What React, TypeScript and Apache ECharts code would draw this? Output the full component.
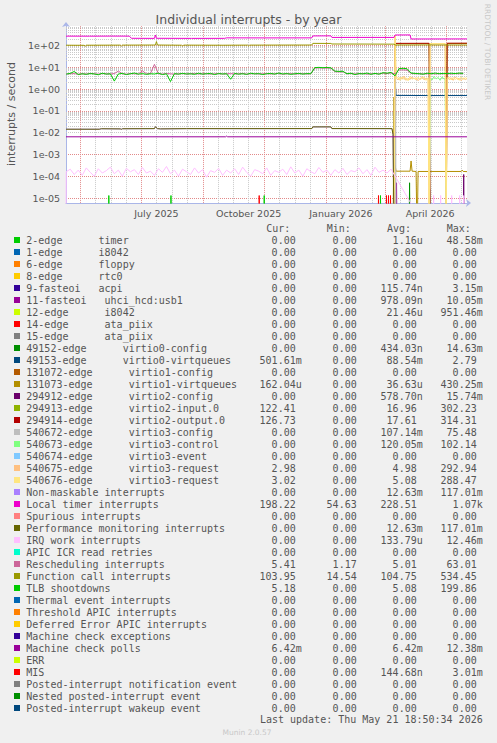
import React, { useEffect, useRef } from "react";
import * as echarts from "echarts";

const DAY = 86400000;
function t(s: string): number {
  const [d, hm = "00:00"] = s.split(" ");
  const [Y, M, D] = d.split("-").map(Number);
  const [h, m] = hm.split(":").map(Number);
  return Date.UTC(Y, M - 1, D, h, m);
}

// ---------- axis ranges / ticks ----------
const START = "2025-04-16 18:50";
const END = "2026-05-21 18:50";
const Y_MIN = 5.9e-6;
const Y_MAX = 776;
const FLOOR = 1e-7; // zero values are drawn below the visible floor (log scale)
const Y_TICK_EXPONENTS = [-5, -4, -3, -2, -1, 0, 1, 2];
const Y_TICK_LABELS = ["1e-05", "1e-04", "1e-03", "1e-02", "1e-01", "1e+00", "1e+01", "1e+02"];
const X_LABEL_DATES = ["2025-07-16", "2025-10-16", "2026-01-16", "2026-04-15"];
const X_LABELS = ["July 2025", "October 2025", "January 2026", "April 2026"];
const X_MAJOR_GRID = ["2025-05-01", "2025-07-01", "2025-09-01", "2025-11-01", "2026-01-01", "2026-03-01", "2026-05-01"];

// ---------- legend ----------
const LEGEND_LABELS = [
  "2-edge      timer",
  "1-edge      i8042",
  "6-edge      floppy",
  "8-edge      rtc0",
  "9-fasteoi   acpi",
  "11-fasteoi   uhci_hcd:usb1",
  "12-edge      i8042",
  "14-edge      ata_piix",
  "15-edge      ata_piix",
  "49152-edge      virtio0-config",
  "49153-edge      virtio0-virtqueues",
  "131072-edge      virtio1-config",
  "131073-edge      virtio1-virtqueues",
  "294912-edge      virtio2-config",
  "294913-edge      virtio2-input.0",
  "294914-edge      virtio2-output.0",
  "540672-edge      virtio3-config",
  "540673-edge      virtio3-control",
  "540674-edge      virtio3-event",
  "540675-edge      virtio3-request",
  "540676-edge      virtio3-request",
  "Non-maskable interrupts",
  "Local timer interrupts",
  "Spurious interrupts",
  "Performance monitoring interrupts",
  "IRQ work interrupts",
  "APIC ICR read retries",
  "Rescheduling interrupts",
  "Function call interrupts",
  "TLB shootdowns",
  "Thermal event interrupts",
  "Threshold APIC interrupts",
  "Deferred Error APIC interrupts",
  "Machine check exceptions",
  "Machine check polls",
  "ERR",
  "MIS",
  "Posted-interrupt notification event",
  "Nested posted-interrupt event",
  "Posted-interrupt wakeup event",
];
const LEGEND_COLORS = [
  "#00CC00", "#0066B3", "#FF8000", "#FFCC00", "#330099", "#990099", "#CCFF00", "#FF0000", "#808080", "#008F00",
  "#00487D", "#B35A00", "#B38F00", "#6B006B", "#8FB300", "#B30000", "#BEBEBE", "#80FF80", "#80C9FF", "#FFC080",
  "#FFE680", "#AA80FF", "#EE00CC", "#FF8080", "#666600", "#FFBFFF", "#00FFCC", "#CC6699", "#999900", "#00CC00",
  "#0066B3", "#FF8000", "#FFCC00", "#330099", "#990099", "#CCFF00", "#FF0000", "#808080", "#008F00", "#00487D",
];
const CUR = ["0.00", "0.00", "0.00", "0.00", "0.00", "0.00", "0.00", "0.00", "0.00", "0.00", "501.61m", "0.00", "162.04u", "0.00", "122.41", "126.73", "0.00", "0.00", "0.00", "2.98", "3.02", "0.00", "198.22", "0.00", "0.00", "0.00", "0.00", "5.41", "103.95", "5.18", "0.00", "0.00", "0.00", "0.00", "6.42m", "0.00", "0.00", "0.00", "0.00", "0.00"];
const MIN = ["0.00", "0.00", "0.00", "0.00", "0.00", "0.00", "0.00", "0.00", "0.00", "0.00", "0.00", "0.00", "0.00", "0.00", "0.00", "0.00", "0.00", "0.00", "0.00", "0.00", "0.00", "0.00", "54.63", "0.00", "0.00", "0.00", "0.00", "1.17", "14.54", "0.00", "0.00", "0.00", "0.00", "0.00", "0.00", "0.00", "0.00", "0.00", "0.00", "0.00"];
const AVG = ["1.16u", "0.00", "0.00", "0.00", "115.74n", "978.09n", "21.46u", "0.00", "0.00", "434.03n", "88.54m", "0.00", "36.63u", "578.70n", "16.96", "17.61", "107.14m", "120.05m", "0.00", "4.98", "5.08", "12.63m", "228.51", "0.00", "12.63m", "133.79u", "0.00", "5.01", "104.75", "5.08", "0.00", "0.00", "0.00", "0.00", "6.42m", "0.00", "144.68n", "0.00", "0.00", "0.00"];
const MAX = ["48.58m", "0.00", "0.00", "0.00", "3.15m", "10.05m", "951.46m", "0.00", "0.00", "14.63m", "2.79", "0.00", "430.25m", "15.74m", "302.23", "314.31", "75.48", "102.14", "0.00", "292.94", "288.47", "117.01m", "1.07k", "0.00", "117.01m", "12.46m", "0.00", "63.01", "534.45", "199.86", "0.00", "0.00", "0.00", "0.00", "12.38m", "0.00", "3.01m", "0.00", "0.00", "0.00"];

// ---------- series values ----------
// sampled every 4 days from D4_START
const D4_START = "2025-04-17";
const TLB = [
  4.8, 5.2, 6.4, 4.6, 5.0, 4.7, 5.1, 4.9, 4.5, 5.3,
  4.8, 5.0, 2.3, 4.9, 5.2, 4.6, 5.0, 5.4, 4.8, 5.1,
  4.7, 5.0, 4.9, 5.3, 4.6, 5.0, 2.2, 5.1, 4.8, 5.2,
  4.9, 5.0, 4.7, 5.3, 4.8, 5.0, 5.2, 4.6, 5.1, 4.9,
  5.0, 2.8, 5.2, 4.8, 5.0, 4.7, 5.3, 4.9, 5.1, 4.6,
  5.0, 5.2, 4.8, 5.4, 4.9, 5.1, 4.7, 5.0, 5.2, 4.8,
  5.1, 5.0, 9.6, 9.8, 9.5, 9.7, 9.4, 6.6, 6.4, 6.5,
  5.0, 5.3, 4.6, 5.1, 4.9, 5.4, 4.7, 5.2, 4.8, 5.6,
  5.3, 5.8, 4.0, 8.6, 8.9, 8.5, 5.4, 5.2, 5.0, 4.8,
  5.3, 5.0, 5.4, 5.0, 5.2, 5.1, 5.3, 5.1, 5.4, 5.2,
];
const RESCHED = [
  4.9, 5.0, 5.1, 4.8, 5.0, 4.9, 5.2, 5.0, 4.8, 5.1,
  5.0, 4.9, 5.1, 6.6, 5.0, 4.8, 5.1, 5.0, 4.9, 6.8,
  5.0, 5.1, 13.5, 5.0, 4.9, 5.1, 5.0, 4.8, 5.0, 5.1,
  4.9, 5.0, 5.2, 4.9, 5.0, 5.1, 4.8, 5.0, 5.1, 4.9,
  5.0, 5.1, 4.9, 5.0, 5.2, 4.8, 5.0, 5.1, 4.9, 5.0,
  5.1, 4.9, 5.0, 5.2, 4.8, 5.0, 5.1, 4.9, 5.0, 5.1,
  4.9, 5.0, 9.2, 9.3, 9.1, 9.2, 9.0, 6.2, 6.1, 6.2,
  5.0, 5.1, 4.9, 5.0, 5.2, 4.8, 5.0, 5.1, 4.9, 5.3,
  5.1, 5.4, 5.0, 7.4, 7.5, 7.3, 5.2, 5.0, 5.1, 4.9,
  5.0, 5.2, 4.9, 5.1, 5.0, 5.2, 4.9, 5.1, 5.0, 5.4,
];
const IRQ_WORK = [
  1.6e-4, 2.1e-4, 1.2e-4, 1.9e-4, 1.1e-4, 2.4e-4, 1.5e-4, 1.0e-4, 2.2e-4, 1.4e-4,
  1.8e-4, 2.6e-4, 1.3e-4, 1.9e-4, 1.0e-4, 2.3e-4, 1.6e-4, 2.0e-4, 1.2e-4, 2.5e-4,
  1.4e-4, 1.7e-4, 1.1e-4, 2.2e-4, 1.5e-4, 2.8e-4, 1.3e-4, 1.9e-4, 1.0e-4, 2.1e-4,
  1.6e-4, 1.2e-4, 2.4e-4, 1.4e-4, 2.0e-4, 0.9e-4, 1.8e-4, 1.5e-4, 2.3e-4, 1.1e-4,
  1.9e-4, 1.4e-4, 2.2e-4, 1.2e-4, 2.6e-4, 1.5e-4, 1.0e-4, 2.0e-4, 1.7e-4, 1.3e-4,
  2.4e-4, 1.1e-4, 1.8e-4, 1.5e-4, 2.1e-4, 1.2e-4, 2.7e-4, 1.4e-4, 1.9e-4, 1.0e-4,
  2.2e-4, 1.6e-4, 1.3e-4, 2.5e-4, 1.5e-4, 1.9e-4, 1.1e-4, 2.0e-4, 1.4e-4, 2.3e-4,
  1.2e-4, 1.8e-4, 1.6e-4, 2.4e-4, 1.3e-4, 2.0e-4, 1.1e-4, 2.6e-4, 1.5e-4, 1.9e-4,
  1.4e-4, 2.1e-4, 0, 0, 0, 0, 0, 0, 0, 0,
  0, 0, 0, 0, 0, 0, 0, 0, 0, 0,
];
const IRQ_WORK_SPIKES: [string, number][] = [["2026-04-18", 1.3e-5], ["2026-04-25", 1.3e-5], ["2026-05-06", 1.3e-5], ["2026-05-14", 1.3e-5], ["2026-05-18", 1.3e-5]];

const LOCAL_TIMER: [string, number][] = [
  [START, 266], ["2025-05-10", 265], ["2025-06-01", 267], ["2025-06-19", 266], ["2025-06-21", 212],
  ["2025-07-14", 210], ["2025-07-15", 300], ["2025-07-16", 212], ["2025-08-20", 210], ["2025-09-22", 211],
  ["2025-09-24", 222], ["2025-11-01", 221], ["2025-12-18", 222], ["2025-12-19", 272], ["2026-01-06", 274],
  ["2026-01-07", 232], ["2026-02-15", 233], ["2026-03-10", 232], ["2026-03-11", 300], ["2026-03-26", 302],
  ["2026-03-27", 197], [END, 198.22],
];
const FUNCTION_CALL: [string, number][] = [
  [START, 102], ["2025-05-05", 101], ["2025-05-06", 92], ["2025-05-07", 102], ["2025-06-10", 103],
  ["2025-06-11", 93], ["2025-06-12", 103], ["2025-07-15", 104], ["2025-07-16", 150], ["2025-07-17", 104],
  ["2025-08-10", 102], ["2025-08-11", 92], ["2025-08-12", 103], ["2025-09-20", 102], ["2025-10-15", 103],
  ["2025-10-16", 93], ["2025-10-17", 103], ["2025-12-18", 104], ["2025-12-19", 124], ["2026-01-06", 123],
  ["2026-01-07", 116], ["2026-02-10", 115], ["2026-03-10", 114], ["2026-03-11", 104], ["2026-04-10", 105],
  [END, 103.95],
];
const PERF_MON: [string, number][] = [
  [START, 0.0143], ["2025-05-20", 0.0143], ["2025-05-22", 0.015], ["2025-06-10", 0.0148], ["2025-06-11", 0.0142],
  ["2025-06-12", 0.015], ["2025-07-14", 0.0152], ["2025-07-15", 0.0185], ["2025-07-17", 0.0152], ["2025-07-20", 0.0148],
  ["2025-08-15", 0.0152], ["2025-10-10", 0.0152], ["2025-12-18", 0.0153], ["2025-12-19", 0.0183], ["2026-01-06", 0.0183],
  ["2026-01-07", 0.0153], ["2026-03-08", 0.0152], ["2026-03-09", 0.008], ["2026-03-10", 0], [END, 0],
];
const MC_POLLS: [string, number][] = [[START, 0.00642], ["2025-09-23", 0.00642], ["2025-09-24", 0.0069], ["2025-09-25", 0.00642], [END, 0.00642]];
const VIRTIO0_VQ: [string, number][] = [[START, 0], ["2026-03-10", 0], ["2026-03-11", 2.7], ["2026-03-12", 0.51], ["2026-04-15", 0.5], [END, 0.5016]];
const VIRTIO1_VQ: [string, number][] = [
  [START, 0], ["2026-03-09", 0], ["2026-03-10", 0.43], ["2026-03-11", 3.5e-4], ["2026-03-12", 1.7e-4], ["2026-03-26", 1.7e-4],
  ["2026-03-27", 5e-4], ["2026-03-28", 1.7e-4], ["2026-04-01", 1.65e-4], ["2026-04-02", 0], ["2026-04-03", 1.65e-4],
  ["2026-05-16", 1.65e-4], ["2026-05-17", 1.9e-4], ["2026-05-18", 1.65e-4], [END, 1.62e-4],
];
const VIRTIO2_INPUT: [string, number][] = [
  [START, 0], ["2026-03-10", 0], ["2026-03-11", 120], ["2026-04-14", 121], ["2026-04-15", 0], ["2026-05-01", 0], ["2026-05-02", 121], [END, 122.41],
];
const VIRTIO2_OUTPUT: [string, number][] = [
  [START, 0], ["2026-03-10", 0], ["2026-03-11", 124], ["2026-04-14", 125], ["2026-04-15", 0], ["2026-05-01", 0], ["2026-05-02", 126], [END, 126.73],
];
const VIRTIO3_CONTROL: [string, number][] = [
  [START, 0], ["2026-04-14", 0], ["2026-04-15", 3.2], ["2026-04-17", 2.6], ["2026-04-19", 3.8], ["2026-04-21", 2.9],
  ["2026-04-23", 3.4], ["2026-04-25", 2.5], ["2026-04-27", 3.6], ["2026-04-29", 2.8], ["2026-04-30", 3.1], ["2026-05-01", 0], [END, 0],
];
const VIRTIO3_REQ_A: [string, number][] = [
  [START, 0], ["2026-03-10", 0], ["2026-03-11", 290], ["2026-03-12", 3.2], ["2026-03-14", 2.6], ["2026-03-16", 3.5],
  ["2026-03-18", 2.8], ["2026-03-20", 3.9], ["2026-03-22", 2.5], ["2026-03-24", 3.1], ["2026-03-26", 2.7], ["2026-03-28", 3.6],
  ["2026-03-30", 2.9], ["2026-04-01", 3.3], ["2026-04-03", 2.4], ["2026-04-05", 3.0], ["2026-04-07", 3.7], ["2026-04-09", 2.6],
  ["2026-04-11", 3.2], ["2026-04-13", 2.8], ["2026-04-14", 0], ["2026-04-15", 118], ["2026-04-22", 121], ["2026-04-30", 119],
  ["2026-05-01", 0], ["2026-05-02", 3.4], ["2026-05-04", 2.7], ["2026-05-06", 3.3], ["2026-05-08", 2.5], ["2026-05-10", 3.6],
  ["2026-05-12", 2.8], ["2026-05-14", 3.1], ["2026-05-16", 2.4], ["2026-05-18", 3.2], ["2026-05-20", 2.7], [END, 2.98],
];
const VIRTIO3_REQ_B: [string, number][] = [
  [START, 0], ["2026-03-10", 0], ["2026-03-11", 288], ["2026-03-12", 2.9], ["2026-03-14", 3.4], ["2026-03-16", 2.5],
  ["2026-03-18", 3.6], ["2026-03-20", 2.7], ["2026-03-22", 3.3], ["2026-03-24", 2.4], ["2026-03-26", 3.8], ["2026-03-28", 2.8],
  ["2026-03-30", 3.2], ["2026-04-01", 2.6], ["2026-04-03", 3.5], ["2026-04-05", 2.7], ["2026-04-07", 3.1], ["2026-04-09", 3.6],
  ["2026-04-11", 2.5], ["2026-04-13", 3.3], ["2026-04-14", 0], ["2026-04-15", 122], ["2026-04-22", 119], ["2026-04-30", 121],
  ["2026-05-01", 0], ["2026-05-02", 2.8], ["2026-05-04", 3.5], ["2026-05-06", 2.6], ["2026-05-08", 3.4], ["2026-05-10", 2.7],
  ["2026-05-12", 3.3], ["2026-05-14", 2.5], ["2026-05-16", 3.6], ["2026-05-18", 2.8], ["2026-05-20", 3.3], [END, 3.02],
];
const TIMER_SPIKES: [string, number][] = [["2025-05-29", 1.3e-5], ["2025-07-30", 1.3e-5], ["2025-10-31", 1.3e-5], ["2026-02-24", 1.3e-5]];
const ACPI_SPIKES: [string, number][] = [["2026-04-14", 2.5e-5]];
const USB_SPIKES: [string, number][] = [["2026-03-12", 5e-5]];
const I8042_12_SPIKES: [string, number][] = [["2026-03-10", 0.95]];
const VIRTIO0_CONFIG_SPIKES: [string, number][] = [["2026-03-25", 5e-5]];
const VIRTIO2_CONFIG_SPIKES: [string, number][] = [["2026-05-18", 1.2e-4]];
const VIRTIO3_CONFIG_SPIKES: [string, number][] = [["2026-03-11", 75]];
const MIS_SPIKES: [string, number][] = [["2025-10-26", 1.3e-5], ["2026-02-22", 1.3e-5], ["2026-03-02", 1.3e-5], ["2026-03-04", 1.3e-5], ["2026-03-06", 1.3e-5]];
const ZERO: [string, number][] = [[START, 0], [END, 0]];

// ---------- builders ----------
const show = (v: number) => (v > 0 ? v : FLOOR);
const pairs = (p: [string, number][]) => p.map(([d, v]) => [t(d), show(v)]);
const d4 = (vals: number[]) => vals.map((v, i) => [t(D4_START) + i * 4 * DAY, show(v)]);
const spikes = (p: [string, number][]) => {
  const out: number[][] = [[t(START), FLOOR]];
  p.forEach(([d, v]) => {
    const c = t(d) + DAY / 2;
    out.push([c - DAY / 2, FLOOR], [c, v], [c + DAY / 2, FLOOR]);
  });
  out.push([t(END), FLOOR]);
  return out;
};
const merge = (a: number[][], b: number[][]) => [...a, ...b].sort((x, y) => x[0] - y[0]);

const SERIES_DATA: number[][][] = [
  spikes(TIMER_SPIKES), pairs(ZERO), pairs(ZERO), pairs(ZERO), spikes(ACPI_SPIKES),
  spikes(USB_SPIKES), spikes(I8042_12_SPIKES), pairs(ZERO), pairs(ZERO), spikes(VIRTIO0_CONFIG_SPIKES),
  pairs(VIRTIO0_VQ), pairs(ZERO), pairs(VIRTIO1_VQ), spikes(VIRTIO2_CONFIG_SPIKES), pairs(VIRTIO2_INPUT),
  pairs(VIRTIO2_OUTPUT), spikes(VIRTIO3_CONFIG_SPIKES), pairs(VIRTIO3_CONTROL), pairs(ZERO), pairs(VIRTIO3_REQ_A),
  pairs(VIRTIO3_REQ_B), pairs(PERF_MON), pairs(LOCAL_TIMER), pairs(ZERO), pairs(PERF_MON),
  merge(d4(IRQ_WORK).filter((p) => p[0] < t("2026-03-11") || p[1] > FLOOR), spikes(IRQ_WORK_SPIKES)),
  pairs(ZERO), d4(RESCHED), pairs(FUNCTION_CALL), d4(TLB),
  pairs(ZERO), pairs(ZERO), pairs(ZERO), pairs(ZERO), pairs(MC_POLLS),
  pairs(ZERO), spikes(MIS_SPIKES), pairs(ZERO), pairs(ZERO), pairs(ZERO),
];

// ---------- grid lines (not data) ----------
function minorXGrid(): number[] {
  const out: number[] = [];
  const majors = X_MAJOR_GRID.map(t);
  let y = 2025;
  let m = 4;
  while (y < 2026 || (y === 2026 && m <= 5)) {
    [1, 16].forEach((d) => {
      const ts = Date.UTC(y, m - 1, d);
      if (ts > t(START) && ts < t(END) && !majors.includes(ts)) out.push(ts);
    });
    m++;
    if (m > 12) { m = 1; y++; }
  }
  return out;
}
function minorYGrid(): number[] {
  const out: number[] = [];
  for (let e = -6; e <= 2; e++) for (let k = 2; k <= 9; k++) {
    const v = k * Math.pow(10, e);
    if (v > Y_MIN && v < Y_MAX) out.push(v);
  }
  return out;
}

const TEXT = "#555";
const MONO = "DejaVu Sans Mono";
const SANS = "DejaVu Sans";
const AXIS_BLUE = "#aab6e8";

export default function App() {
  const ref = useRef<HTMLDivElement>(null);
  useEffect(() => {
    if (!ref.current) return;
    const chart = echarts.init(ref.current, undefined, { renderer: "svg" });
    const minorStyle = { color: "#c9c9c9", type: [1, 1] as any, width: 1 };
    const majorStyle = { color: "#e28a8a", type: [1, 1] as any, width: 1 };
    // vertical grid lines span the full plot height (just inside the log extent)
    const vLine = (x: number, style: any) => [
      { coord: [x, Y_MIN * 1.01], lineStyle: style },
      { coord: [x, Y_MAX * 0.99] },
    ];
    const gridSeries: any = {
      type: "line",
      name: "_grid",
      data: [[t(START), FLOOR]],
      symbol: "none",
      silent: true,
      z: 1,
      lineStyle: { opacity: 0 },
      markLine: {
        silent: true,
        symbol: ["none", "none"],
        label: { show: false },
        z: 1,
        animation: false,
        data: [
          ...minorYGrid().map((v) => ({ yAxis: v, lineStyle: minorStyle })),
          ...minorXGrid().map((v) => vLine(v, minorStyle)),
          ...X_MAJOR_GRID.map((d) => vLine(t(d), majorStyle)),
        ],
      },
    };
    const series: any[] = [gridSeries];
    SERIES_DATA.forEach((data, i) => {
      series.push({
        type: "line",
        name: LEGEND_LABELS[i],
        data,
        symbol: "none",
        showSymbol: false,
        clip: true,
        silent: true,
        z: 2,
        lineStyle: { width: 1, color: LEGEND_COLORS[i] },
        itemStyle: { color: LEGEND_COLORS[i] },
        emphasis: { disabled: true },
      });
    });

    const graphic: any[] = [
      { type: "text", x: 248.5, y: 19.5, style: { text: "Individual interrupts - by year", fill: TEXT, font: `12.5px ${SANS}`, align: "center", verticalAlign: "middle" } },
      { type: "text", x: 11, y: 114, rotation: Math.PI / 2, style: { text: "interrupts / second", fill: TEXT, font: `11px ${SANS}`, align: "center", verticalAlign: "middle" } },
      { type: "text", x: 487, y: 52, rotation: -Math.PI / 2, style: { text: "RRDTOOL / TOBI OETIKER", fill: "#c8c8c8", font: `7.5px ${SANS}`, align: "center", verticalAlign: "middle" } },
      { type: "text", x: 266.3, y: 228, style: { text: "Cur:", fill: TEXT, font: `10px ${MONO}`, align: "left", verticalAlign: "middle" } },
      { type: "text", x: 326.7, y: 228, style: { text: "Min:", fill: TEXT, font: `10px ${MONO}`, align: "left", verticalAlign: "middle" } },
      { type: "text", x: 387, y: 228, style: { text: "Avg:", fill: TEXT, font: `10px ${MONO}`, align: "left", verticalAlign: "middle" } },
      { type: "text", x: 446.7, y: 228, style: { text: "Max:", fill: TEXT, font: `10px ${MONO}`, align: "left", verticalAlign: "middle" } },
      { type: "text", x: 482.7, y: 719.5, style: { text: "Last update: Thu May 21 18:50:34 2026", fill: TEXT, font: `10px ${MONO}`, align: "right", verticalAlign: "middle" } },
      { type: "text", x: 247, y: 732, style: { text: "Munin 2.0.57", fill: "#c8c8c8", font: `7.5px ${SANS}`, align: "center", verticalAlign: "middle" } },
    ];
    const colEnds = [295.7, 356.7, 416.7, 476.7];
    LEGEND_LABELS.forEach((label, i) => {
      const y = 240 + 12 * i;
      graphic.push({ type: "rect", shape: { x: 14, y: y - 3, width: 6, height: 6 }, style: { fill: LEGEND_COLORS[i] } });
      graphic.push({ type: "text", x: 26.3, y, style: { text: label, fill: TEXT, font: `10px ${MONO}`, align: "left", verticalAlign: "middle" } });
      [CUR[i], MIN[i], AVG[i], MAX[i]].forEach((s, c) => {
        const m = s.match(/^(.*?)([a-zA-Z]?)$/) as RegExpMatchArray;
        graphic.push({ type: "text", x: colEnds[c], y, style: { text: m[1], fill: TEXT, font: `10px ${MONO}`, align: "right", verticalAlign: "middle" } });
        if (m[2]) graphic.push({ type: "text", x: colEnds[c], y, style: { text: m[2], fill: TEXT, font: `10px ${MONO}`, align: "left", verticalAlign: "middle" } });
      });
    });

    const xLabelTimes = X_LABEL_DATES.map(t);
    chart.setOption({
      animation: false,
      backgroundColor: "#f0f0f0",
      grid: { left: 66, top: 26, width: 401, height: 177, show: true, backgroundColor: "#ffffff", borderWidth: 0, containLabel: false },
      xAxis: {
        type: "value",
        min: t(START),
        max: t(END),
        axisLine: { show: true, lineStyle: { color: AXIS_BLUE, width: 1 }, symbol: ["none", "arrow"], symbolSize: [6, 5], symbolOffset: [0, 4] },
        axisTick: { show: false },
        splitLine: { show: false },
        axisLabel: {
          customValues: xLabelTimes,
          hideOverlap: false,
          margin: 5,
          color: TEXT,
          fontSize: 9.5,
          fontFamily: SANS,
          formatter: (v: number) => {
            const i = xLabelTimes.findIndex((x) => Math.abs(x - v) < DAY);
            return i >= 0 ? X_LABELS[i] : "";
          },
        },
      },
      yAxis: {
        type: "log",
        logBase: 10,
        min: Y_MIN,
        max: Y_MAX,
        axisLine: { show: true, lineStyle: { color: AXIS_BLUE, width: 1 }, symbol: ["none", "arrow"], symbolSize: [6, 5], symbolOffset: [0, 4] },
        axisTick: { show: false },
        splitLine: { show: true, showMinLine: false, showMaxLine: false, lineStyle: { color: "#e28a8a", type: [1, 1], width: 1 } },
        axisLabel: {
          showMinLabel: false,
          showMaxLabel: false,
          margin: 6,
          color: TEXT,
          fontSize: 9.5,
          fontFamily: SANS,
          formatter: (v: number) => {
            const e = Math.round(Math.log10(v));
            const i = Y_TICK_EXPONENTS.indexOf(e);
            return i >= 0 && Math.abs(Math.log10(v) - e) < 0.01 ? Y_TICK_LABELS[i] : "";
          },
        },
      },
      series,
      graphic,
    });
    return () => chart.dispose();
  }, []);
  return <div ref={ref} style={{ position: "absolute", left: 0, top: 0, width: 497, height: 743 }} />;
}
